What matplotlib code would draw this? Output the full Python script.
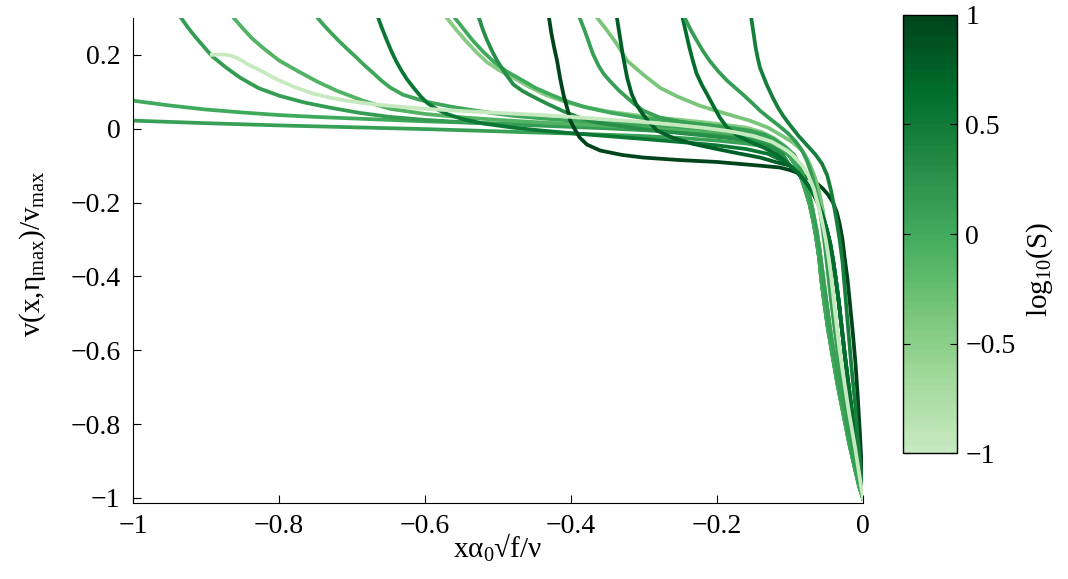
import matplotlib
matplotlib.use('Agg')
import matplotlib.pyplot as plt
import numpy as np
from matplotlib.colors import ListedColormap, Normalize
from matplotlib.cm import ScalarMappable

plt.rcParams['font.family'] = ['Liberation Serif', 'DejaVu Serif']
plt.rcParams['mathtext.fontset'] = 'custom'
plt.rcParams['mathtext.rm'] = 'Liberation Serif'
plt.rcParams['mathtext.it'] = 'Liberation Serif'
plt.rcParams['mathtext.default'] = 'regular'

# log10(S) of every curve
log_s = [0.0, 0.1, -1.0, 0.15, -0.1, 0.05, 0.55, -0.45, 0.0, 0.3, 1.0, 0.1, -0.35, 0.75, 0.65, 0.15, 0.45]

# shared steep parts near x = 0 (the curves overlap there)
tail_a_x = [-0.1, -0.092, -0.085, -0.079, -0.073, -0.068, -0.064, -0.06, -0.057, -0.053, -0.048, -0.042, -0.035, -0.027, -0.019, -0.011, -0.005, 0.0]
tail_a_y = [-0.075, -0.1, -0.13, -0.165, -0.205, -0.25, -0.295, -0.35, -0.41, -0.47, -0.54, -0.61, -0.69, -0.77, -0.85, -0.92, -0.97, -1.0]
tail_b_x = [-0.095, -0.087, -0.08, -0.074, -0.069, -0.064, -0.06, -0.056, -0.052, -0.048, -0.043, -0.037, -0.031, -0.024, -0.017, -0.01, -0.004, 0.0]
tail_b_y = [-0.07, -0.1, -0.135, -0.175, -0.22, -0.27, -0.32, -0.38, -0.44, -0.5, -0.57, -0.64, -0.71, -0.78, -0.86, -0.92, -0.97, -1.0]
tail_c_x = [-0.104, -0.097, -0.09, -0.083, -0.077, -0.072, -0.067, -0.063, -0.059, -0.055, -0.051, -0.047, -0.043, -0.038, -0.032, -0.026, -0.019, -0.011, -0.004, 0.0]
tail_c_y = [-0.059, -0.07, -0.085, -0.1, -0.118, -0.14, -0.165, -0.195, -0.225, -0.26, -0.3, -0.35, -0.41, -0.5, -0.6, -0.68, -0.77, -0.86, -0.95, -1.0]
tail_d_x = [-0.1, -0.09, -0.08, -0.071, -0.063, -0.056, -0.05, -0.045, -0.041, -0.037, -0.033, -0.029, -0.025, -0.02, -0.015, -0.01, -0.005, 0.0]
tail_d_y = [-0.1, -0.118, -0.14, -0.165, -0.195, -0.23, -0.27, -0.31, -0.355, -0.41, -0.47, -0.54, -0.61, -0.69, -0.77, -0.85, -0.93, -1.0]
tail_e_x = [-0.114, -0.1, -0.086, -0.072, -0.062, -0.055, -0.048, -0.041, -0.036, -0.032, -0.028, -0.025, -0.021, -0.018, -0.014, -0.01, -0.007, -0.004, -0.002, 0.0]
tail_e_y = [-0.105, -0.112, -0.122, -0.137, -0.15, -0.162, -0.178, -0.2, -0.225, -0.257, -0.3, -0.35, -0.41, -0.47, -0.55, -0.64, -0.73, -0.83, -0.91, -1.0]

# left parts of the curves
x01 = [-1.0, -0.95, -0.9, -0.85, -0.8, -0.75, -0.7, -0.65, -0.6, -0.55, -0.5, -0.45, -0.4, -0.35, -0.3, -0.25, -0.2, -0.17, -0.145, -0.125, -0.11]
y01 = [0.076, 0.063, 0.052, 0.044, 0.037, 0.032, 0.028, 0.024, 0.02, 0.017, 0.014, 0.011, 0.008, 0.004, 0.0, -0.006, -0.014, -0.02, -0.028, -0.04, -0.055]

x02 = [-1.0, -0.9, -0.8, -0.7, -0.6, -0.5, -0.47, -0.4, -0.3, -0.25, -0.2, -0.16, -0.135, -0.115, -0.103]
y02 = [0.022, 0.015, 0.009, 0.004, -0.001, -0.007, -0.009, -0.013, -0.02, -0.025, -0.032, -0.04, -0.048, -0.058, -0.066]

x03 = [-0.892, -0.881, -0.871, -0.864, -0.858, -0.851, -0.844, -0.832, -0.82, -0.81, -0.799, -0.776, -0.753, -0.73, -0.707, -0.678, -0.648,
       -0.6, -0.55, -0.5, -0.45, -0.4, -0.35, -0.305, -0.26, -0.22, -0.185, -0.151, -0.125]
y03 = [0.2, 0.201, 0.2, 0.197, 0.192, 0.185, 0.176, 0.164, 0.152, 0.141, 0.13, 0.111, 0.095, 0.084, 0.076, 0.068, 0.062,
       0.054, 0.048, 0.043, 0.038, 0.032, 0.025, 0.019, 0.011, 0.003, -0.006, -0.019, -0.035]

x04 = [-0.942, -0.934, -0.924, -0.913, -0.902, -0.892, -0.872, -0.853, -0.828, -0.799, -0.765, -0.73, -0.69, -0.648,
       -0.6, -0.55, -0.5, -0.45, -0.4, -0.35, -0.3, -0.25, -0.2, -0.17, -0.145, -0.127, -0.113]
y04 = [0.32, 0.3, 0.272, 0.245, 0.22, 0.197, 0.165, 0.138, 0.11, 0.089, 0.071, 0.057, 0.043, 0.032,
       0.024, 0.018, 0.013, 0.009, 0.005, 0.001, -0.004, -0.01, -0.017, -0.023, -0.031, -0.041, -0.055]

x05 = [-0.868, -0.862, -0.851, -0.837, -0.822, -0.8, -0.775, -0.748, -0.721, -0.685, -0.648, -0.6, -0.55, -0.5,
       -0.45, -0.4, -0.35, -0.3, -0.25, -0.2, -0.16, -0.135, -0.117, -0.105]
y05 = [0.32, 0.3, 0.275, 0.245, 0.219, 0.185, 0.157, 0.128, 0.103, 0.076, 0.054, 0.04, 0.031, 0.024,
       0.018, 0.013, 0.008, 0.004, -0.001, -0.008, -0.017, -0.028, -0.042, -0.055]

x06 = [-0.752, -0.747, -0.737, -0.727, -0.717, -0.707, -0.695, -0.683, -0.671, -0.66, -0.648, -0.63, -0.61, -0.593, -0.565, -0.54, -0.51, -0.479,
       -0.44, -0.4, -0.35, -0.3, -0.25, -0.2, -0.16, -0.135, -0.118, -0.108]
y06 = [0.32, 0.3, 0.277, 0.256, 0.236, 0.217, 0.195, 0.172, 0.151, 0.131, 0.112, 0.092, 0.08, 0.071, 0.06, 0.052, 0.043, 0.035,
       0.028, 0.022, 0.016, 0.011, 0.005, -0.002, -0.01, -0.02, -0.035, -0.05]

x07 = [-0.666, -0.664, -0.66, -0.656, -0.652, -0.646, -0.64, -0.633, -0.625, -0.616, -0.606, -0.597, -0.584, -0.57, -0.55, -0.52, -0.479,
       -0.44, -0.4, -0.35, -0.305, -0.25, -0.2, -0.16, -0.13, -0.112]
y07 = [0.32, 0.3, 0.278, 0.258, 0.238, 0.21, 0.185, 0.16, 0.135, 0.112, 0.088, 0.07, 0.053, 0.04, 0.027, 0.014, 0.003,
       -0.005, -0.012, -0.02, -0.027, -0.036, -0.045, -0.055, -0.068, -0.085]

x08 = [-0.578, -0.57, -0.558, -0.545, -0.53, -0.515, -0.497, -0.479, -0.456, -0.433, -0.41, -0.388, -0.35, -0.305, -0.26, -0.22, -0.19, -0.16, -0.14, -0.122, -0.108]
y08 = [0.32, 0.3, 0.27, 0.24, 0.208, 0.18, 0.157, 0.138, 0.112, 0.09, 0.074, 0.062, 0.047, 0.035, 0.026, 0.018, 0.011, 0.003, -0.008, -0.025, -0.045]

x09 = [-0.566, -0.559, -0.547, -0.535, -0.52, -0.505, -0.488, -0.47, -0.448, -0.425, -0.402, -0.38, -0.345, -0.305, -0.26, -0.22, -0.185, -0.155, -0.135, -0.12, -0.11]
y09 = [0.32, 0.3, 0.27, 0.24, 0.208, 0.18, 0.155, 0.135, 0.11, 0.09, 0.072, 0.058, 0.043, 0.03, 0.02, 0.012, 0.004, -0.005, -0.015, -0.03, -0.05]

x10 = [-0.529, -0.526, -0.521, -0.515, -0.508, -0.501, -0.49, -0.479, -0.467, -0.455, -0.443, -0.433, -0.41, -0.388, -0.37, -0.35,
       -0.305, -0.26, -0.22, -0.18, -0.15, -0.125, -0.11]
y10 = [0.32, 0.3, 0.27, 0.24, 0.21, 0.184, 0.15, 0.12, 0.103, 0.09, 0.078, 0.068, 0.047, 0.03, 0.019, 0.012,
       0.0, -0.01, -0.018, -0.026, -0.035, -0.05, -0.07]

x11 = [-0.431, -0.43, -0.427, -0.423, -0.419, -0.415, -0.41, -0.405, -0.401, -0.396, -0.388, -0.378, -0.36, -0.33, -0.301,
       -0.25, -0.2, -0.141, -0.125]
y11 = [0.32, 0.3, 0.26, 0.22, 0.184, 0.138, 0.09, 0.055, 0.022, 0.003, -0.024, -0.043, -0.059, -0.071, -0.078,
       -0.085, -0.09, -0.1, -0.103]

x12 = [-0.391, -0.388, -0.382, -0.376, -0.37, -0.362, -0.355, -0.347, -0.335, -0.323, -0.312, -0.301, -0.278, -0.25, -0.22, -0.19, -0.16, -0.135, -0.117, -0.105]
y12 = [0.32, 0.3, 0.27, 0.237, 0.203, 0.17, 0.148, 0.13, 0.105, 0.084, 0.065, 0.049, 0.03, 0.019, 0.011, 0.004, -0.005, -0.018, -0.035, -0.052]

x13 = [-0.372, -0.364, -0.352, -0.338, -0.323, -0.3, -0.278, -0.255, -0.233, -0.223, -0.19, -0.155, -0.13, -0.11, -0.097, -0.086, -0.079, -0.073,
       -0.066, -0.06, -0.055, -0.05, -0.046, -0.042, -0.037, -0.031, -0.024, -0.016, -0.008, -0.003, 0.0]
y13 = [0.32, 0.3, 0.27, 0.232, 0.184, 0.145, 0.111, 0.088, 0.07, 0.062, 0.042, 0.022, 0.003, -0.02, -0.036, -0.054, -0.072, -0.095,
       -0.13, -0.17, -0.22, -0.28, -0.35, -0.43, -0.52, -0.62, -0.72, -0.82, -0.91, -0.97, -1.0]

x14 = [-0.338, -0.337, -0.333, -0.329, -0.323, -0.317, -0.311, -0.305, -0.294, -0.282, -0.26, -0.233, -0.2, -0.17, -0.141, -0.12]
y14 = [0.32, 0.3, 0.25, 0.2, 0.138, 0.095, 0.068, 0.049, 0.02, -0.005, -0.025, -0.041, -0.055, -0.067, -0.078, -0.09]

x15 = [-0.248, -0.247, -0.243, -0.238, -0.233, -0.228, -0.221, -0.214, -0.205, -0.196, -0.186, -0.172, -0.155, -0.135, -0.118, -0.108]
y15 = [0.32, 0.3, 0.265, 0.222, 0.184, 0.15, 0.12, 0.095, 0.062, 0.03, 0.003, -0.018, -0.035, -0.052, -0.07, -0.085]

x16 = [-0.246, -0.244, -0.236, -0.228, -0.219, -0.21, -0.198, -0.186, -0.175, -0.164, -0.152, -0.141, -0.128, -0.115, -0.103, -0.092, -0.083, -0.076, -0.07,
       -0.065, -0.06, -0.056, -0.052, -0.048, -0.044, -0.039, -0.033, -0.026, -0.018, -0.01, -0.004, 0.0]
y16 = [0.32, 0.3, 0.268, 0.24, 0.21, 0.184, 0.155, 0.13, 0.111, 0.092, 0.07, 0.049, 0.028, 0.008, -0.012, -0.035, -0.06, -0.09, -0.125,
       -0.165, -0.21, -0.26, -0.32, -0.39, -0.46, -0.54, -0.63, -0.72, -0.82, -0.9, -0.96, -1.0]

x17 = [-0.154, -0.153, -0.15, -0.147, -0.144, -0.141, -0.132, -0.123, -0.116, -0.109, -0.1, -0.088, -0.076, -0.065, -0.056, -0.049, -0.044, -0.04,
       -0.036, -0.032, -0.028, -0.025, -0.022, -0.019, -0.016, -0.013, -0.01, -0.008, -0.005, -0.003, 0.0]
y17 = [0.32, 0.3, 0.26, 0.22, 0.19, 0.165, 0.12, 0.082, 0.056, 0.034, 0.01, -0.02, -0.046, -0.07, -0.095, -0.126, -0.165, -0.205,
       -0.25, -0.3, -0.36, -0.43, -0.5, -0.57, -0.64, -0.7, -0.76, -0.82, -0.88, -0.93, -1.0]

# which shared tail each curve runs into (None: curve already reaches x = 0)
tails = ['a', 'b', 'c', 'a', 'b', 'a', 'd', 'b', 'a', 'd', 'e', 'b', None, 'd', 'd', None, None]
tail_x = {'a': tail_a_x, 'b': tail_b_x, 'c': tail_c_x, 'd': tail_d_x, 'e': tail_e_x}
tail_y = {'a': tail_a_y, 'b': tail_b_y, 'c': tail_c_y, 'd': tail_d_y, 'e': tail_e_y}

xs = [x01, x02, x03, x04, x05, x06, x07, x08, x09, x10, x11, x12, x13, x14, x15, x16, x17]
ys = [y01, y02, y03, y04, y05, y06, y07, y08, y09, y10, y11, y12, y13, y14, y15, y16, y17]

xticks = [-1, -0.8, -0.6, -0.4, -0.2, 0]
yticks = [-1, -0.8, -0.6, -0.4, -0.2, 0, 0.2]
cticks = [-1, -0.5, 0, 0.5, 1]


def minus(t):
    return f'{t:g}'.replace('-', '\u2212')


# MATLAB-like green map, light end at -1
cmap = ListedColormap(plt.cm.Greens(np.linspace(0.25, 1.0, 64)))
norm = Normalize(vmin=-1, vmax=1)

fig = plt.figure(figsize=(10.68, 5.79), dpi=100)
ax = fig.add_axes([0.1245, 0.1313, 0.6835, 0.8377])

for x, y, t, s in zip(xs, ys, tails, log_s):
    if t is not None:
        x = x + tail_x[t]
        y = y + tail_y[t]
    # the palest curve sits on top of the others in the original
    z = 3 if s == -1.0 else 2
    ax.plot(x, y, color=cmap(norm(s)), lw=2.7, solid_joinstyle='round', zorder=z)

ax.set_xlim(-1, 0)
ax.set_ylim(-1.0135, 0.3)
ax.set_xticks(xticks)
ax.set_yticks(yticks)
ax.set_xticklabels([minus(t) for t in xticks])
ax.set_yticklabels([minus(t) for t in yticks])
ax.spines['top'].set_visible(False)
ax.spines['right'].set_visible(False)
ax.tick_params(direction='in', length=6, width=0.8, labelsize=20)
ax.tick_params(axis='y', pad=9)
ax.tick_params(axis='x', pad=8)

ax.set_xlabel('x\u03b1$_0$\u221af/\u03bd', fontsize=21)
ax.xaxis.set_label_coords(0.5, -0.06)
ax.set_ylabel('v(x,\u03b7$_{max}$)/v$_{max}$', fontsize=21)
ax.yaxis.set_label_coords(-0.117, 0.515)

cax = fig.add_axes([0.8455, 0.2176, 0.0506, 0.7565])
sm = ScalarMappable(norm=norm, cmap=cmap)
cb = fig.colorbar(sm, cax=cax, ticks=cticks)
cb.ax.set_yticklabels([minus(t) for t in cticks])
cb.ax.tick_params(direction='in', length=5, width=0.8, left=True, right=True, labelsize=20, pad=6)
cb.outline.set_linewidth(1.0)
fig.text(1040 / 1068, 1 - 270 / 579, 'log$_{10}$(S)', rotation=90, ha='center', va='center', fontsize=21)

fig.savefig('out.png', dpi=100)
